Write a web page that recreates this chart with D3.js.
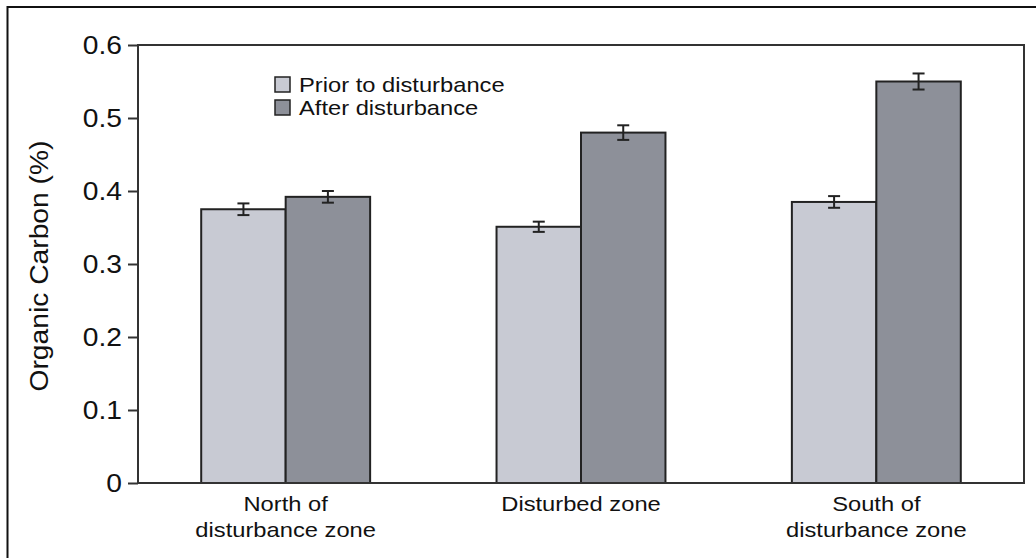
<!DOCTYPE html>
<html><head><meta charset="utf-8">
<script src="https://cdn.jsdelivr.net/npm/d3@7"></script>
<style>body{margin:0;background:#fff}svg{display:block;font-family:"Liberation Sans",Arial,sans-serif}</style>
</head><body>
<svg id="c" width="1036" height="558"></svg>
<script>
const categories = [["North of","disturbance zone"],["Disturbed zone"],["South of","disturbance zone"]];
const seriesNames = ["Prior to disturbance","After disturbance"];
const priorValues = [0.375, 0.351, 0.385];
const afterValues = [0.392, 0.480, 0.550];
const priorErr = [0.008, 0.007, 0.008];
const afterErr = [0.008, 0.010, 0.011];
const yTicks = [0, 0.1, 0.2, 0.3, 0.4, 0.5, 0.6];
const colors = ["#c8cad3", "#8d9099"];

const SX = 1.13; // horizontal stretch of the original type
const svg = d3.select("#c");
const L = 138, R = 1024, T = 45, B = 483;
svg.append("rect").attr("x",7.5).attr("y",7).attr("width",1100).attr("height",700)
  .attr("fill","none").attr("stroke","#111").attr("stroke-width",2);

const y = d3.scaleLinear().domain([0,0.6]).range([B,T]);
const x0 = d3.scaleBand().domain(d3.range(categories.length)).range([L,R]).paddingInner(0.428).paddingOuter(0.214);
const x1 = d3.scaleBand().domain([0,1]).range([0,x0.bandwidth()]);

const data = categories.map((c,i)=>({i, vals:[
  {s:0,v:priorValues[i],e:priorErr[i]},{s:1,v:afterValues[i],e:afterErr[i]}]}));

const g = svg.selectAll("g.grp").data(data).join("g").attr("class","grp")
  .attr("transform",d=>`translate(${x0(d.i)},0)`);
g.selectAll("rect").data(d=>d.vals).join("rect")
  .attr("x",d=>x1(d.s)).attr("y",d=>y(d.v)).attr("width",x1.bandwidth()).attr("height",d=>B-y(d.v))
  .attr("fill",d=>colors[d.s]).attr("stroke","#222").attr("stroke-width",2);
const eb = g.selectAll("g.err").data(d=>d.vals).join("g").attr("class","err")
  .attr("stroke","#222").attr("stroke-width",2);
const cxOf = d=>x1(d.s)+x1.bandwidth()/2;
eb.append("line").attr("x1",cxOf).attr("x2",cxOf).attr("y1",d=>y(d.v+d.e)).attr("y2",d=>y(d.v-d.e));
eb.append("line").attr("x1",d=>cxOf(d)-6).attr("x2",d=>cxOf(d)+6).attr("y1",d=>y(d.v+d.e)).attr("y2",d=>y(d.v+d.e));
eb.append("line").attr("x1",d=>cxOf(d)-6).attr("x2",d=>cxOf(d)+6).attr("y1",d=>y(d.v-d.e)).attr("y2",d=>y(d.v-d.e));

svg.append("path").attr("d",`M${L},${T}H${R}V${B}H${L}Z`).attr("fill","none").attr("stroke","#333").attr("stroke-width",2);

const yAxis = svg.append("g").attr("transform",`translate(${L},0)`)
  .call(d3.axisLeft(y).tickValues(yTicks).tickFormat(d=>d===0?"0":d3.format(".1f")(d)).tickSize(10).tickPadding(0));
yAxis.select(".domain").remove();
yAxis.selectAll("line").attr("stroke","#333").attr("stroke-width",2);
yAxis.selectAll("text").attr("font-size",25).attr("fill","#111").attr("font-family","Liberation Sans, Arial, sans-serif")
  .attr("x",null).attr("transform",`translate(-16,0) scale(${SX},1)`);

const xl = svg.append("g");
categories.forEach((c,i)=>{
  const cx = x0(i)+x0.bandwidth()/2;
  c.forEach((line,k)=>xl.append("text").attr("text-anchor","middle").attr("font-size",21).attr("fill","#111")
    .attr("transform",`translate(${cx},${511+k*26}) scale(${SX},1)`).text(line));
});

svg.append("text").attr("transform",`translate(48,266) rotate(-90) scale(${SX},1)`).attr("text-anchor","middle")
  .attr("font-size",25).attr("fill","#111").text("Organic Carbon (%)");

const lg = svg.append("g");
seriesNames.forEach((n,i)=>{
  lg.append("rect").attr("x",275).attr("y",77+i*23).attr("width",15).attr("height",15)
    .attr("fill",colors[i]).attr("stroke","#222").attr("stroke-width",1.5);
  lg.append("text").attr("transform",`translate(299,${92+i*23}) scale(${SX},1)`).attr("font-size",21).attr("fill","#111").text(n);
});
</script>
</body></html>
